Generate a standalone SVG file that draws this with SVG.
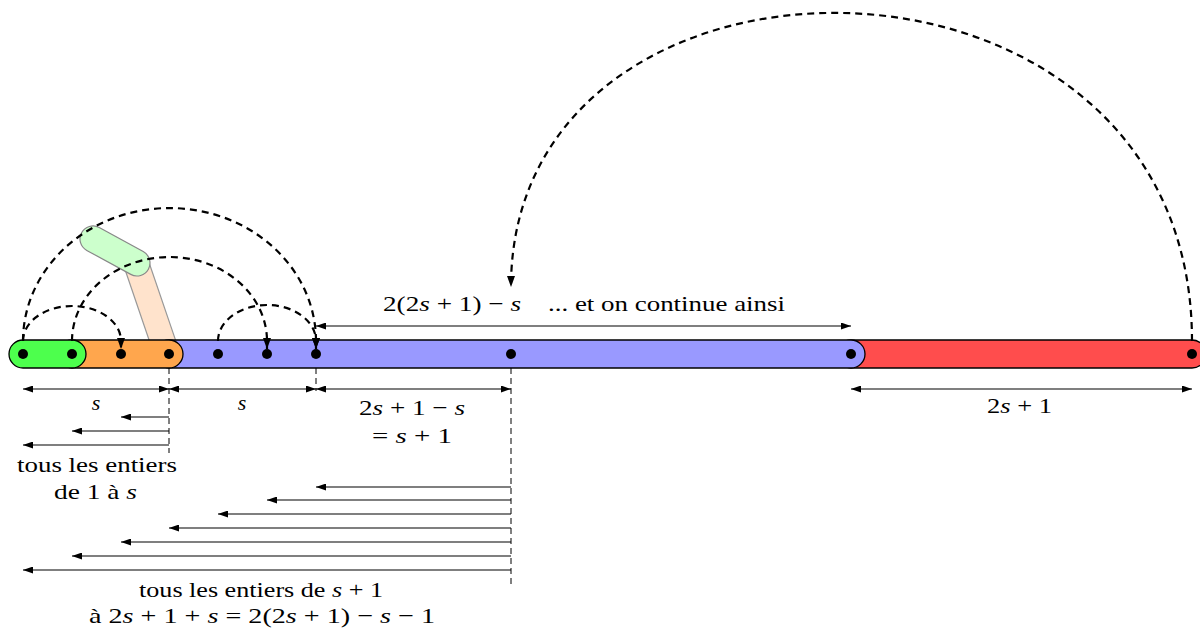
<svg xmlns="http://www.w3.org/2000/svg" width="1200" height="630" viewBox="0 0 1200 630">
<style>
.bar{stroke:#000;stroke-width:1.3}
.dot{fill:#000}
.arc{fill:none;stroke:#000;stroke-width:2.2;stroke-dasharray:7 5}
.dim{fill:none;stroke:#000;stroke-width:1.2}
.vd{fill:none;stroke:#000;stroke-width:1;stroke-dasharray:6 4}
text{font-family:"Liberation Serif",serif;font-size:22px;fill:#000}
.i{font-style:italic}
</style>
<defs>
<marker id="ah" viewBox="0 0 11 8" refX="11" refY="4" markerWidth="11" markerHeight="8" markerUnits="userSpaceOnUse" orient="auto"><path d="M0,0 L11,4 L0,8 z" fill="#000"/></marker>
<marker id="sh" viewBox="0 0 10 7" refX="10" refY="3.5" markerWidth="10" markerHeight="7" markerUnits="userSpaceOnUse" orient="auto-start-reverse"><path d="M0,0 L10,3.5 L0,7 z" fill="#000"/></marker>
</defs>

<g id="capsules">
<rect x="-12.5" y="-12.5" width="111.6" height="25" rx="12.5" transform="translate(136,263) rotate(71.15)" fill="#ffe3cc" stroke="#999" stroke-width="1.2"/>
<rect x="-13" y="-13" width="76.1" height="26" rx="13" transform="translate(93,239) rotate(28.6)" fill="#ccffcc" stroke="#888" stroke-width="1.2"/>
</g>

<g id="bar-red"><rect class="bar" x="837" y="340" width="369" height="28" rx="14" fill="#ff4d4d"/></g>
<g id="bar-blue"><rect class="bar" x="155" y="340" width="710" height="28" rx="14" fill="#9999ff"/></g>
<g id="bar-orange"><rect class="bar" x="58" y="340" width="125" height="28" rx="14" fill="#ffa64d"/></g>
<g id="bar-green"><rect class="bar" x="9" y="340" width="77" height="28" rx="14" fill="#4dff4d"/></g>

<g id="dots">
<circle class="dot" cx="23" cy="354" r="5"/>
<circle class="dot" cx="72" cy="354" r="5"/>
<circle class="dot" cx="121" cy="354" r="5"/>
<circle class="dot" cx="169" cy="354" r="5"/>
<circle class="dot" cx="218" cy="354" r="5"/>
<circle class="dot" cx="267" cy="354" r="5"/>
<circle class="dot" cx="316" cy="354" r="5"/>
<circle class="dot" cx="511" cy="354" r="5"/>
<circle class="dot" cx="851" cy="354" r="5"/>
<circle class="dot" cx="1192" cy="354" r="5"/>
</g>

<g id="connectors">
<path class="arc" d="M23 341 A49 35 0 0 1 121 341 L121 349" marker-end="url(#ah)"/>
<path class="arc" d="M72 341 A97.5 84 0 0 1 267 341 L267 349" marker-end="url(#ah)"/>
<path class="arc" d="M23 341 A146.5 133 0 0 1 316 341 L316 349" marker-end="url(#ah)"/>
<path class="arc" d="M218 341 A49 36 0 0 1 316 341 L316 349" marker-end="url(#ah)"/>
<path class="arc" d="M1192 341 C1192 -87 511 -87 511 287" marker-end="url(#ah)"/>

<path class="dim" d="M316 326 H851" marker-start="url(#sh)" marker-end="url(#sh)"/>
<path class="dim" d="M23 389 H169" marker-start="url(#sh)" marker-end="url(#sh)"/>
<path class="dim" d="M169 389 H316" marker-start="url(#sh)" marker-end="url(#sh)"/>
<path class="dim" d="M316 389 H511" marker-start="url(#sh)" marker-end="url(#sh)"/>
<path class="dim" d="M851 389 H1192" marker-start="url(#sh)" marker-end="url(#sh)"/>

<path class="vd" d="M169 368 V453"/>
<path class="vd" d="M316 368 V391"/>
<path class="vd" d="M511 368 V585"/>

<path class="dim" d="M169 417 H121" marker-end="url(#sh)"/>
<path class="dim" d="M169 431 H72" marker-end="url(#sh)"/>
<path class="dim" d="M169 445 H23" marker-end="url(#sh)"/>

<path class="dim" d="M511 487 H316" marker-end="url(#sh)"/>
<path class="dim" d="M511 500 H267" marker-end="url(#sh)"/>
<path class="dim" d="M511 514 H218" marker-end="url(#sh)"/>
<path class="dim" d="M511 528 H169" marker-end="url(#sh)"/>
<path class="dim" d="M511 542 H121" marker-end="url(#sh)"/>
<path class="dim" d="M511 556 H72" marker-end="url(#sh)"/>
<path class="dim" d="M511 570 H23" marker-end="url(#sh)"/>
</g>

<g id="labels">
<text x="383" y="311" textLength="138" lengthAdjust="spacingAndGlyphs">2(2<tspan class="i">s</tspan> + 1) − <tspan class="i">s</tspan></text>
<text x="548" y="311" textLength="237" lengthAdjust="spacingAndGlyphs">... et on continue ainsi</text>
<text x="96" y="410" text-anchor="middle" class="i">s</text>
<text x="242" y="410" text-anchor="middle" class="i">s</text>
<text x="359" y="415" textLength="106" lengthAdjust="spacingAndGlyphs">2<tspan class="i">s</tspan> + 1 − <tspan class="i">s</tspan></text>
<text x="372" y="443" textLength="80" lengthAdjust="spacingAndGlyphs">= <tspan class="i">s</tspan> + 1</text>
<text x="987" y="413" textLength="65" lengthAdjust="spacingAndGlyphs">2<tspan class="i">s</tspan> + 1</text>
<text x="17" y="472" textLength="160" lengthAdjust="spacingAndGlyphs">tous les entiers</text>
<text x="54" y="499" textLength="83" lengthAdjust="spacingAndGlyphs">de 1 à <tspan class="i">s</tspan></text>
<text x="139" y="597" textLength="244" lengthAdjust="spacingAndGlyphs">tous les entiers de <tspan class="i">s</tspan> + 1</text>
<text x="89" y="623" textLength="346" lengthAdjust="spacingAndGlyphs">à 2<tspan class="i">s</tspan> + 1 + <tspan class="i">s</tspan> = 2(2<tspan class="i">s</tspan> + 1) − <tspan class="i">s</tspan> − 1</text>
</g>
</svg>
